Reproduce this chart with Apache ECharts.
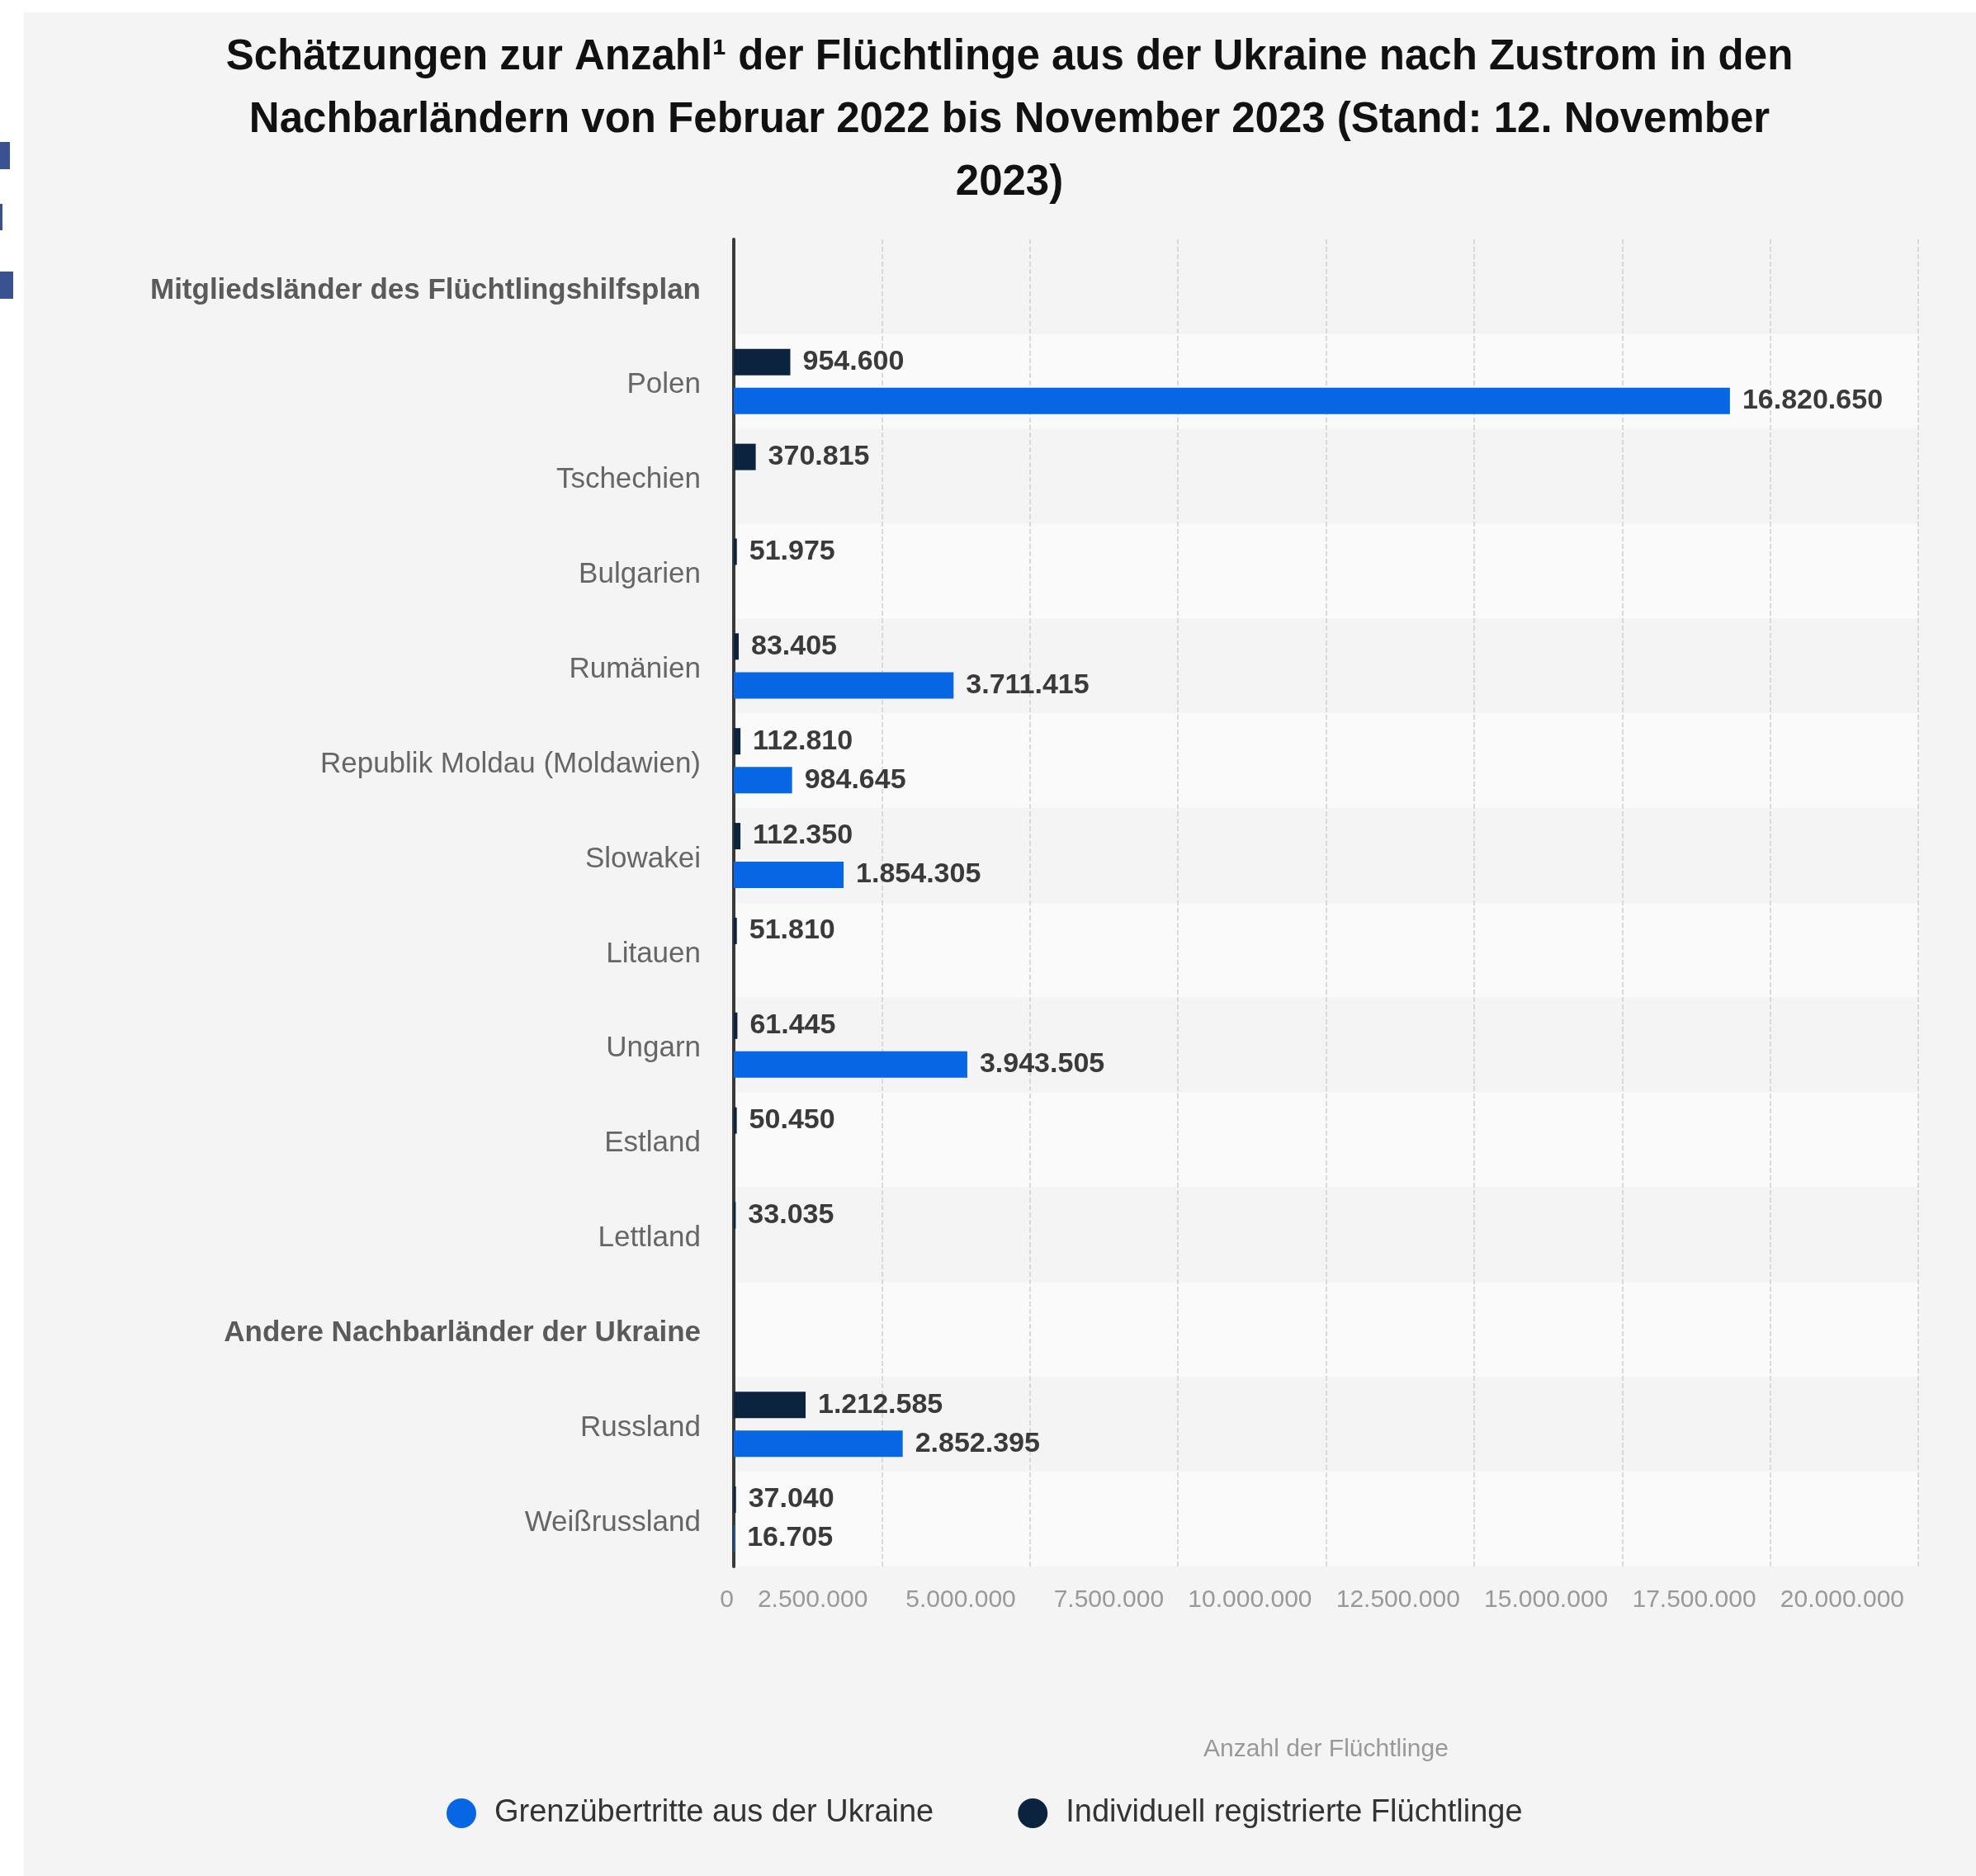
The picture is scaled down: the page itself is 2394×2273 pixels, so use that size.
<!DOCTYPE html>
<html>
<head>
<meta charset="utf-8">
<script src="https://cdn.jsdelivr.net/npm/echarts@6/dist/echarts.min.js"></script>
<style>
html,body{margin:0;padding:0;background:#ffffff;}
#chart{width:2394px;height:2273px;}
</style>
</head>
<body>
<div id="chart"></div>
<script>
const titleText = 'Schätzungen zur Anzahl¹ der Flüchtlinge aus der Ukraine nach Zustrom in den\nNachbarländern von Februar 2022 bis November 2023 (Stand: 12. November\n2023)';
const categories = ['Mitgliedsländer des Flüchtlingshilfsplan','Polen','Tschechien','Bulgarien','Rumänien','Republik Moldau (Moldawien)','Slowakei','Litauen','Ungarn','Estland','Lettland','Andere Nachbarländer der Ukraine','Russland','Weißrussland'];
const headers = ['Mitgliedsländer des Flüchtlingshilfsplan','Andere Nachbarländer der Ukraine'];
const grenzName = 'Grenzübertritte aus der Ukraine';
const indivName = 'Individuell registrierte Flüchtlinge';
const grenzValues = [null, 16820650, null, null, 3711415, 984645, 1854305, null, 3943505, null, null, null, 2852395, 16705];
const indivValues = [null, 954600, 370815, 51975, 83405, 112810, 112350, 51810, 61445, 50450, 33035, null, 1212585, 37040];
const xMin = 0, xMax = 20000000, xInterval = 2500000;
const axisName = 'Anzahl der Flüchtlinge';

const FONT = '"Liberation Sans", Arial, Helvetica, sans-serif';
function fmt(v){ return String(v).replace(/\B(?=(\d{3})+(?!\d))/g, '.'); }

const chart = echarts.init(document.getElementById('chart'), null, {renderer:'canvas'});
const valueLabel = {
  show: true, position: 'right', distance: 15,
  fontFamily: FONT, fontSize: 34, fontWeight: 'bold', color: '#3a3a3a',
  formatter: p => fmt(p.value)
};
chart.setOption({
  backgroundColor: '#ffffff',
  animation: false,
  graphic: [
    {type:'rect', z:-10, shape:{x:29, y:15, width:2365, height:2258}, style:{fill:'#f4f4f4'}},
    {type:'rect', z:-10, shape:{x:0, y:172, width:12, height:33}, style:{fill:'#3a5192'}},
    {type:'rect', z:-10, shape:{x:0, y:247, width:3, height:32}, style:{fill:'#3a5192'}},
    {type:'rect', z:-10, shape:{x:0, y:329, width:16, height:33}, style:{fill:'#3a5192'}}
  ],
  title: {
    text: titleText, left: 1218, textAlign: 'center', top: 27,
    textStyle: {fontFamily: FONT, fontSize: 51, fontWeight: 'bold', color: '#111', lineHeight: 76}
  },
  legend: {
    data: [grenzName, indivName], left: 536, top: 2173,
    icon: 'circle', itemWidth: 36, itemHeight: 36, itemGap: 102,
    textStyle: {fontFamily: FONT, fontSize: 38, color: '#333', padding: [0,0,0,17]}
  },
  grid: {left: 889, right: 70, top: 290, bottom: 375, containLabel: false},
  xAxis: {
    type: 'value', min: xMin, max: xMax, interval: xInterval,
    name: axisName, nameLocation: 'middle', nameGap: 207,
    nameTextStyle: {fontFamily: FONT, fontSize: 30, color: '#999'},
    axisLine: {show: false}, axisTick: {show: false},
    splitLine: {show: true, lineStyle: {color: '#cfcfcf', type: 'dashed', width: 1.5}},
    axisLabel: {
      margin: 26, align: 'right', fontFamily: FONT, fontSize: 30, color: '#999',
      formatter: v => v === 0 ? '{z|0}' : '{n|' + fmt(v) + '}',
      rich: {z: {fontFamily: FONT, fontSize: 30, color: '#999', padding:[0,0,0,0]}, n: {fontFamily: FONT, fontSize: 30, color: '#999', padding: [0,17,0,0]}}
    }
  },
  yAxis: {
    type: 'category', data: categories, inverse: true,
    axisLine: {show: true, lineStyle: {color: '#3a3a3a', width: 4}},
    axisTick: {show: false},
    splitArea: {show: true, areaStyle: {color: ['#f4f4f4', '#fafafa']}},
    axisLabel: {
      margin: 40,
      formatter: v => headers.includes(v) ? '{h|' + v + '}' : '{c|' + v + '}',
      rich: {
        h: {fontFamily: FONT, fontSize: 35, fontWeight: 'bold', color: '#5a5a5a', padding: [9,0,0,0]},
        c: {fontFamily: FONT, fontSize: 35, color: '#666', padding: [9,0,0,0]}
      }
    }
  },
  series: [
    {name: indivName, type: 'bar', data: indivValues, barWidth: 32, barGap: '47%',
     itemStyle: {color: '#0c2340'}, label: valueLabel},
    {name: grenzName, type: 'bar', data: grenzValues, barWidth: 32, barGap: '47%',
     itemStyle: {color: '#0766e3'}, label: valueLabel}
  ]
});
</script>
</body>
</html>
